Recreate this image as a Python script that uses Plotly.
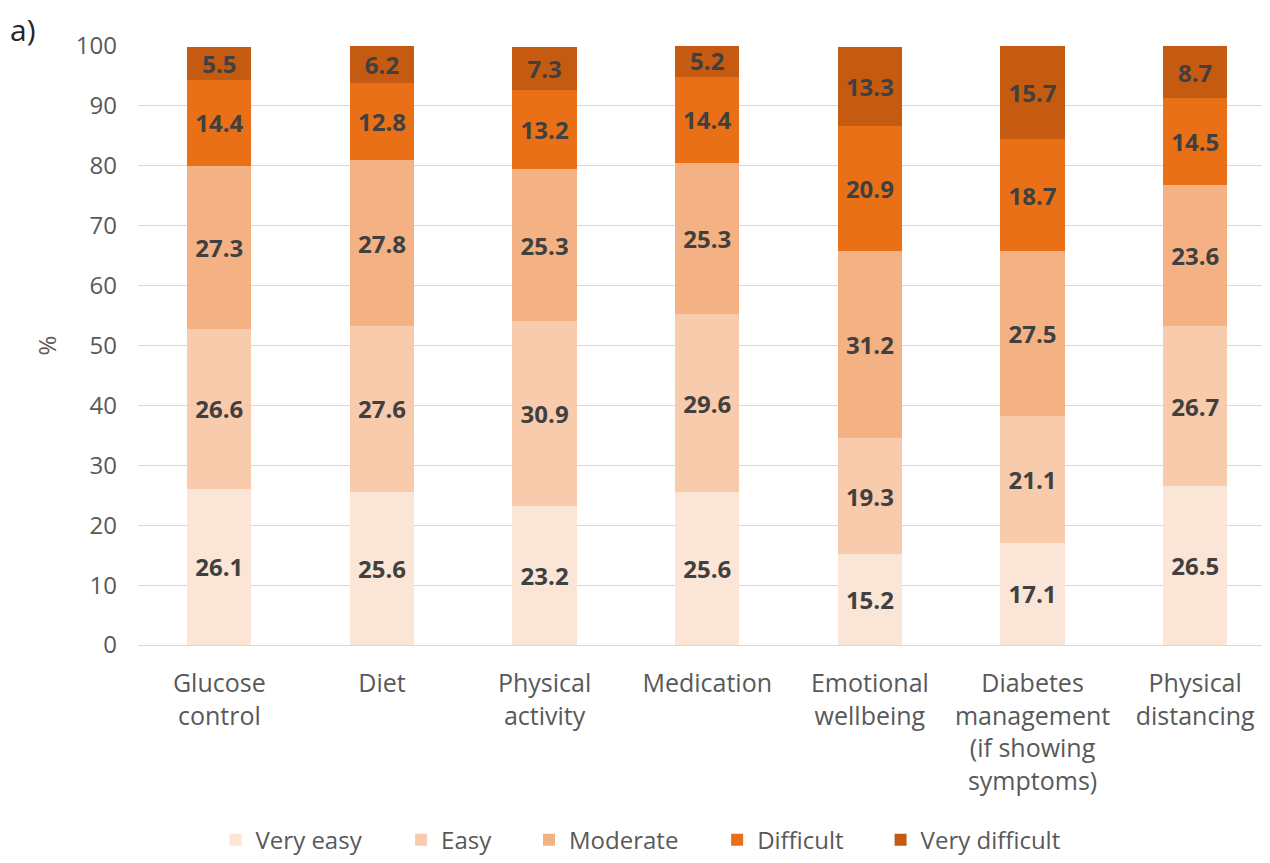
import plotly.graph_objects as go

categories = ["Glucose<br>control", "Diet", "Physical<br>activity", "Medication",
              "Emotional<br>wellbeing", "Diabetes<br>management<br>(if showing<br>symptoms)",
              "Physical<br>distancing"]
series_names = ["Very easy", "Easy", "Moderate", "Difficult", "Very difficult"]
very_easy = [26.1, 25.6, 23.2, 25.6, 15.2, 17.1, 26.5]
easy = [26.6, 27.6, 30.9, 29.6, 19.3, 21.1, 26.7]
moderate = [27.3, 27.8, 25.3, 25.3, 31.2, 27.5, 23.6]
difficult = [14.4, 12.8, 13.2, 14.4, 20.9, 18.7, 14.5]
very_difficult = [5.5, 6.2, 7.3, 5.2, 13.3, 15.7, 8.7]
y_ticks = [0, 10, 20, 30, 40, 50, 60, 70, 80, 90, 100]

colors = ["#FBE5D6", "#F8CBAD", "#F4B183", "#E97016", "#C55A11"]
values = [very_easy, easy, moderate, difficult, very_difficult]
legend_ids = ["legend2", "legend3", "legend4", "legend5", "legend6"]
legend_x = [0.0685, 0.2324, 0.3454, 0.5116, 0.656]

fig = go.Figure()
for name, vals, col, lid in zip(series_names, values, colors, legend_ids):
    fig.add_trace(go.Bar(
        x=categories, y=vals, name=name, marker=dict(color=col, line=dict(width=0)),
        text=[f"{v:.1f}" for v in vals], textposition="inside", insidetextanchor="middle",
        textfont=dict(family="Open Sans", size=24, color="#404040", weight="bold"),
        hoverinfo="skip", legend=lid, showlegend=True,
    ))

legend_common = dict(orientation="h", xanchor="left", y=-0.326, yanchor="middle",
                     font=dict(size=24, color="#595959"), itemwidth=30,
                     bgcolor="rgba(0,0,0,0)", visible=True)
layout_legends = {lid: dict(x=lx, **legend_common) for lid, lx in zip(legend_ids, legend_x)}

fig.update_layout(
    barmode="stack", bargap=0.605,
    width=1262, height=855,
    showlegend=True,
    margin=dict(l=130, r=0, t=38, b=218, autoexpand=False),
    plot_bgcolor="white", paper_bgcolor="white",
    font=dict(family="Open Sans", color="#595959", size=22),
    uniformtext=dict(mode="show", minsize=24),
    yaxis=dict(range=[0, 100], tickvals=y_ticks, showgrid=True, gridcolor="#D9D9D9",
               gridwidth=1, zeroline=False, ticks="", ticklabelstandoff=20, automargin=False,
               tickfont=dict(size=24, color="#595959"),
               title=dict(text="%", font=dict(size=24, color="#595959"), standoff=12)),
    xaxis=dict(showline=True, linecolor="#D9D9D9", ticks="", automargin=False,
               range=[-0.5, 6.46],
               tickfont=dict(size=25, color="#595959"), ticklabelstandoff=16),
    annotations=[dict(text="a)", x=0.0, y=1.0, xref="paper", yref="paper", xanchor="left",
                      yanchor="top", showarrow=False, font=dict(size=30, color="#262626"),
                      xshift=-130, yshift=39)],
    **layout_legends,
)
fig.write_html("out.html")
